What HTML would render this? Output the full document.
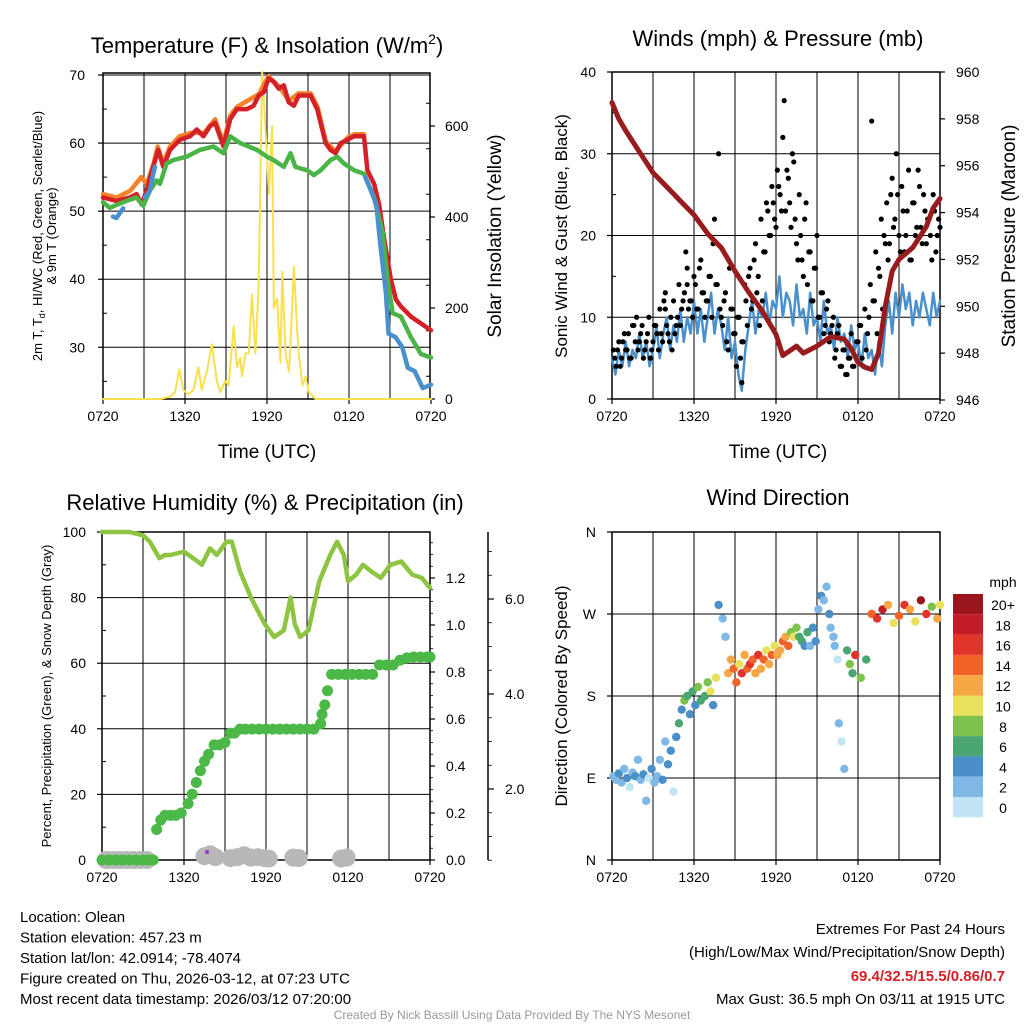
<!DOCTYPE html>
<html><head><meta charset="utf-8"><style>
body{margin:0;background:#fff}
svg{font-family:"Liberation Sans",sans-serif}
</style></head><body>
<svg id="s" width="1024" height="1024" viewBox="0 0 1024 1024" xmlns="http://www.w3.org/2000/svg">
</svg>
<script>
// ---------- DATA ----------
const xTickLabels=["0720","1320","1920","0120","0720"];
// Temperature panel (hours since 0720 UTC)
const tRedH=[0,0.98,1.96,2.45,2.82,3.18,3.67,4.04,4.41,4.9,5.63,6.37,6.86,7.35,7.84,8.2,8.82,9.31,9.8,10.53,11.02,11.39,11.76,12.12,12.49,12.86,13.23,13.59,13.96,14.33,15.18,15.67,16.29,16.65,17.02,17.39,17.88,18.37,19.1,19.35,19.84,20.2,20.57,21.06,21.43,21.8,22.53,23.27,24];
const tRedV=[52,51.5,52,52.5,51,53,56.5,59,56.5,59,60.5,61,62,61,62.5,63,59.5,63.5,65,65,65.5,67,67.5,69.5,69,68,68.5,66,65.5,67,67,65,60,59,58.5,60,60.5,61,61,56,54,51,46,40,37,36,34.5,33.5,32.5];
const tOrgH=[0,1,2,2.8,3.2,3.7,4.0,4.4,4.9,5.6,6.4,7.4,8.2,8.8,9.3,9.8,11.4,12.1,12.9,13.6,14.3,15.2,15.7,16.3,17.0,17.9,18.4,19.1];
const tOrgV=[52.5,52,53,55,54,57,59.5,57,59.5,61,61.5,61.5,63.5,60,64,65.3,67.2,69.8,68.3,66.2,67.3,67.3,65.3,60.2,58.8,60.8,61.3,61.3];
const tGrnH=[0,0.49,1.71,2.45,2.94,3.43,3.92,4.16,4.65,5.14,6.12,7.1,8.08,8.82,9.31,10.04,11.27,12.0,12.49,13.23,13.72,14.08,14.94,15.43,15.92,16.65,17.14,17.63,18.37,19.1,19.84,20.45,20.82,21.19,21.8,22.53,23.27,24];
const tGrnV=[51.3,50.5,51.5,52,50.8,53,54.5,54,57,57.5,58,59,59.5,58.5,61,60,59,58,57.5,56.5,58.5,56.5,56,55.3,56,57.5,58,57,56,55.5,52,47,40,35,34.5,31.5,29,28.5];
const tBlu1H=[0.73,0.98,1.47];
const tBlu1V=[49.2,49,50.4];
const tBlu2H=[3.06,3.43,3.67,3.8];
const tBlu2V=[52,53,55.5,56.5];
const tBlu3H=[19.2,19.6,20.0,20.3,20.7,20.9,21.4,21.9,22.3,22.8,23.4,24];
const tBlu3V=[55,53,51,45,38,32,31.5,30,27,26.5,24,24.5];
const solH=[0,4.17,4.9,5.27,5.59,5.88,6.25,6.62,6.98,7.23,7.6,7.96,8.33,8.58,8.94,9.19,9.56,9.8,10.05,10.17,10.42,10.66,10.9,11.15,11.39,11.64,11.88,12.13,12.37,12.5,12.74,12.74,12.99,13.11,13.36,13.6,13.72,13.97,14.21,14.33,14.58,14.82,15.06,15.56,15.8,16.17,24];
const solV=[0,0,5,15,65,20,10,20,70,20,60,120,40,15,40,30,160,70,90,50,100,100,230,100,250,720,600,450,600,200,220,220,80,280,100,60,120,290,150,100,30,50,15,0,0,0,0];
// Winds panel
const presH=[0,0.5,1,2,3,4,5,6,7,8,9,10,11,12,12.5,13,13.5,14,15,16,17,17.5,18,18.5,19,19.5,20,20.5,21,22,23,23.5,24];
const presV=[958.7,958,957.5,956.6,955.7,955.1,954.5,953.9,953.1,952.5,951.5,950.6,949.8,948.8,947.9,948.1,948.3,948,948.3,948.7,948.6,948.2,947.6,947.4,947.3,948,950,951.5,952,952.5,953.4,954.2,954.6];
const windH=[0,0.25,0.5,0.75,1,1.25,1.5,1.75,2,2.25,2.5,2.75,3,3.25,3.5,3.75,4,4.25,4.5,4.75,5,5.25,5.5,5.75,6,6.25,6.5,6.75,7,7.25,7.5,7.75,8,8.25,8.5,8.75,9,9.25,9.5,9.75,10,10.25,10.5,10.75,11,11.25,11.5,11.75,12,12.25,12.5,12.75,13,13.25,13.5,13.75,14,14.25,14.5,14.75,15,15.25,15.5,15.75,16,16.25,16.5,16.75,17,17.25,17.5,17.75,18,18.25,18.5,18.75,19,19.25,19.5,19.75,20,20.25,20.5,20.75,21,21.25,21.5,21.75,22,22.25,22.5,22.75,23,23.25,23.5,23.75,24];
const windV=[5,3,6,4,7,4,6,5,8,5,7,4,6,9,5,8,10,6,9,7,11,7,10,8,12,8,11,7,10,13,8,11,9,6,10,5,7,3,1,6,9,12,8,11,10,13,9,12,11,15,10,13,12,9,14,10,11,8,13,9,10,7,12,8,9,6,10,7,8,5,9,6,7,4,8,5,6,3,7,4,9,12,8,13,10,14,11,13,9,12,10,13,11,9,13,10,12];
const gustH=[0.2,0.4,0.6,0.8,1.0,1.2,1.4,1.6,1.8,2.0,2.2,2.4,2.6,2.8,3.0,3.2,3.4,3.6,3.8,3.9,4.0,4.2,4.4,4.6,4.8,5.0,5.2,5.4,5.5,5.6,5.8,6.0,6.2,6.4,6.6,6.8,7.0,7.2,7.4,7.6,7.8,8.0,8.2,8.4,8.6,8.8,9.0,9.2,9.4,9.5,9.6,9.8,10.0,10.2,10.4,10.6,10.8,11.0,11.2,11.4,11.6,11.8,12.0,12.2,12.4,12.6,12.8,13.0,13.2,13.4,13.6,13.8,14.0,14.2,14.4,14.6,14.8,15.0,15.2,15.4,15.6,15.8,16.0,16.2,16.4,16.6,16.8,17.0,17.2,17.4,17.6,18.0,18.2,18.4,18.6,18.8,19.0,19.2,19.4,19.6,19.8,20.0,20.2,20.4,20.6,20.8,21.0,21.2,21.4,21.6,21.8,22.0,22.2,22.4,22.6,22.8,23.0,23.2,23.4,23.6,23.8,24.0];
const gustV=[5,6,4,7,6,8,5,9,10,7,9,6,8,5,7,9,6,8,12,11,9,7,6,8,10,9,12,18,14,11,12,15,11,16,13,10,12,15,19,14,30,10,12,7,16,11,8,10,5,2,7,12,15,11,17,13,9,12,18,23,20,24,21,26,23,36.5,28,24,30,22,17,20,15,24,18,12,16,20,10,13,9,12,8,10,6,9,4,6,3,5,4,7,9,4,6,10,34,12,8,15,11,19,17,25,21,30,20,26,18,23,17,24,20,28,21,25,19,22,17,23,20,21];
const gust2H=[0.1,0.3,0.5,0.7,0.9,1.1,1.3,1.5,1.7,1.9,2.1,2.3,2.5,2.7,2.9,3.1,3.3,3.5,3.7,3.9,4.1,4.3,4.5,4.7,4.9,5.1,5.3,5.5,5.7,5.9,6.1,6.3,6.5,6.7,6.9,7.1,7.3,7.5,7.7,7.9,8.1,8.3,8.5,8.7,8.9,9.1,9.3,9.5,9.7,9.9,10.1,10.3,10.5,10.7,10.9,11.1,11.3,11.5,11.7,11.9,12.1,12.3,12.5,12.7,12.9,13.1,13.3,13.5,13.7,13.9,14.1,14.3,14.5,14.7,14.9,15.1,15.3,15.5,15.7,15.9,16.1,16.3,16.5,16.7,16.9,17.1,17.3,17.5,17.7,17.9,18.1,18.3,18.5,18.7,18.9,19.1,19.3,19.5,19.7,19.9,20.1,20.3,20.5,20.7,20.9,21.1,21.3,21.5,21.7,21.9,22.1,22.3,22.5,22.7,22.9,23.1,23.3,23.5,23.7,23.9];
const gust2V=[6,4,7,5,8,6,5,9,7,6,8,5,7,10,6,9,8,11,7,13,8,10,12,9,14,11,13,16,12,10,14,11,17,13,12,15,10,22,14,11,9,13,6,11,8,4,10,7,14,9,16,12,19,15,22,18,24,20,26,22,28,25,32,23,27,21,29,19,25,17,22,14,18,12,16,10,13,8,11,7,9,5,8,4,6,3,5,8,4,7,9,5,11,8,14,12,18,16,22,20,24,19,27,22,25,18,23,20,28,17,24,21,26,19,23,22,20,25,18,22];
// RH / precip panel
const rhH=[0,2,3,3.5,4.2,4.6,5,6,7,7.3,7.9,8.4,9.1,9.5,10.1,10.9,11.9,12.6,13.3,13.8,14.1,14.5,15.1,15.9,16.7,17.2,17.7,18.0,18.6,19.1,19.7,20.4,21.1,21.9,22.7,23.4,24];
const rhV=[100,100,99,97,92,93,93,94,91,90,95,93,97,97,88,80,72,68,70,80,72,68,70,85,93,97,93,85,87,90,88,86,90,91,87,86,83];
const pcpH=[0,0.5,1,1.5,2,2.5,3,3.4,3.75,4.0,4.3,4.6,5,5.4,5.8,6.3,6.6,6.9,7.2,7.5,7.8,8.2,8.6,9,9.4,9.7,10.1,10.5,11,11.5,12,12.5,13,13.5,14,14.5,15,15.5,16,16.1,16.3,16.5,16.8,17.3,17.8,18.3,18.8,19.3,19.8,20.3,20.8,21.3,21.8,22.3,22.8,23.3,23.8,24];
const pcpV=[0,0,0,0,0,0,0,0,0,0.13,0.17,0.19,0.19,0.19,0.2,0.24,0.28,0.33,0.38,0.42,0.45,0.49,0.49,0.5,0.54,0.54,0.557,0.557,0.557,0.557,0.557,0.557,0.557,0.557,0.557,0.557,0.557,0.557,0.58,0.62,0.66,0.72,0.79,0.79,0.79,0.79,0.79,0.79,0.79,0.83,0.83,0.83,0.85,0.86,0.864,0.864,0.864,0.864];
const snowH=[0.3,0.8,1.3,1.8,2.3,2.8,3.3,7.5,7.9,8.3,9.4,9.9,10.4,10.9,11.4,11.9,12.2,14.0,14.4,17.5,17.9];
const snowV=[0,0,0,0,0,0,0,0.08,0.12,0.06,0.04,0.06,0.1,0.05,0.06,0.04,0.03,0.05,0.04,0.03,0.05];
// Wind direction panel
const dirH=[0.1,0.3,0.5,0.7,0.9,1.1,1.3,1.5,1.7,1.9,2.1,2.3,2.5,2.7,2.9,3.1,3.3,3.5,3.7,3.9,4.1,4.3,4.5,4.7,4.9,5.1,5.3,5.5,5.7,5.9,6.1,6.3,6.5,6.8,7.0,7.2,7.4,7.6,7.8,8.1,8.3,8.5,8.7,8.9,9.1,9.3,9.5,9.7,9.9,10.1,10.3,10.5,10.7,10.9,11.1,11.3,11.5,11.7,11.9,12.1,12.3,12.5,12.7,12.9,13.1,13.3,13.5,13.7,13.9,14.1,14.3,14.5,14.7,14.9,15.1,15.3,15.5,15.7,15.9,16.0,16.2,16.3,16.5,16.6,16.8,17.0,17.2,17.4,17.6,17.8,18.2,18.6,19.0,19.4,19.8,20.2,20.6,21.0,21.4,21.8,22.2,22.6,23.0,23.4,23.8,24.0];
const dirV=[92,88,95,85,100,90,80,96,92,110,88,94,65,90,100,85,92,110,88,130,105,120,75,135,150,165,175,180,160,185,170,190,175,180,195,185,170,200,280,265,245,205,220,210,195,215,205,225,210,215,220,205,225,210,220,230,215,225,235,225,230,240,245,235,250,245,255,245,240,235,250,235,255,240,275,290,285,300,270,255,245,235,220,150,130,100,230,215,205,225,200,220,270,265,275,280,260,268,280,275,262,285,270,278,265,280,272,270];
const dirS=[3,2,4,3,2,4,1,3,4,2,3,4,2,1,4,3,2,3,4,3,5,4,1,4,6,5,8,6,4,7,5,8,7,6,9,10,5,11,4,3,2,12,13,14,15,11,16,13,14,17,15,13,16,12,14,10,12,15,11,13,12,14,13,15,9,11,8,7,6,5,7,3,5,4,3,4,2,3,4,3,2,3,1,2,1,2,7,8,6,16,9,7,14,16,18,12,10,15,17,13,11,20,16,9,12,11];
const cbLabels=["20+","18","16","14","12","10","8","6","4","2","0"];
const cbColors=["#9a161c","#c21d26","#e0352b","#f2632a","#f8a747","#e7e15c","#7cc24c","#4aa772","#4a8fc8","#7fb8e4","#c2e5f6"];
</script>
<script>
const NS="http://www.w3.org/2000/svg";
const S=document.getElementById('s');
function mk(tag,at,parent,txt){const e=document.createElementNS(NS,tag);for(const k in at)e.setAttribute(k,at[k]);if(txt!==undefined)e.textContent=txt;(parent||S).appendChild(e);return e;}
function line(x1,y1,x2,y2,c,w,name){const e=mk('line',{x1,y1,x2,y2,stroke:c,'stroke-width':w});

return e;}
function text(x,y,s,size,anchor,name,extra){const at={x,y,'font-size':size,'text-anchor':anchor||'middle',fill:'#000'};if(extra)for(const k in extra)at[k]=extra[k];const e=mk('text',at,S,s);

return e;}
function poly(xs,ys,fx,fy,c,w,name){const pts=xs.map((h,i)=>fx(h).toFixed(1)+','+fy(ys[i]).toFixed(1)).join(' ');const e=mk('polyline',{points:pts,fill:'none',stroke:c,'stroke-width':w,'stroke-linejoin':'round','stroke-linecap':'round'});

return e;}
function dot(x,y,r,c,name){const e=mk('circle',{cx:x,cy:y,r,fill:c});

return e;}

function panelX(x0){return h=>x0+h*(328/24);}
function frameAndGrid(x0,y0,x1,y1,xf,hGridYs,name){
  for(let h=3;h<24;h+=3){line(xf(h),y0,xf(h),y1,'#000',1,name+'-vgrid');}
  hGridYs.forEach(y=>line(x0,y,x1,y,'#000',1,name+'-hgrid'));
  const r=mk('rect',{x:x0,y:y0,width:x1-x0,height:y1-y0,fill:'none',stroke:'#000','stroke-width':1.5});
  
  
  xTickLabels.forEach((l,i)=>{const x=xf(i*6);line(x,y1,x,y1+5,'#000',1.2,'x-tick');text(x,y1+22,l,14,'middle','x-tick-label');});
  for(let h=3;h<24;h+=6){line(xf(h),y1,xf(h),y1-4,'#000',1,'x-minor-tick');}
}

// ===== Panel 1: Temperature =====
{
const x0=103,x1=430,y0=73,y1=399;
const xf=panelX(x0);
const yT=v=>399-(v-22.4)*(326/47.9);
const yS=v=>399-v*(91/200);
frameAndGrid(x0,y0,x1,y1,xf,[30,40,50,60,70].map(yT),'temp');
line(x0,75,x1,75,'#000',1,'temp-top-line');
[30,40,50,60,70].forEach(v=>{line(x0-5,yT(v),x0,yT(v),'#000',1.2,'temp-y-tick');text(x0-18,yT(v)+5,String(v),14,'end','temp-y-label');});
[25,35,45,55,65].forEach(v=>line(x0,yT(v),x0+4,yT(v),'#000',1,'temp-minor-tick'));
[0,200,400,600].forEach(v=>{line(x1,yS(v),x1+5,yS(v),'#000',1.2,'sol-y-tick');text(x1+15,yS(v)+5,String(v),14,'start','sol-y-label');});
for(let v=50;v<720;v+=100)line(x1,yS(v),x1-4,yS(v),'#000',1,'sol-minor-tick');
poly(solH,solV,xf,yS,'#f8e04e',2,'insolation-line');
poly(tOrgH,tOrgV,xf,yT,'#f5822a',4.5,'9m-temp-line');
poly(tRedH,tRedV,xf,yT,'#d42027',4.5,'2m-temp-line');
poly(tGrnH,tGrnV,xf,yT,'#4bb446',4.5,'dewpoint-line');
poly(tBlu1H,tBlu1V,xf,yT,'#4a90cc',4.5,'windchill-line');
poly(tBlu2H,tBlu2V,xf,yT,'#4a90cc',4.5,'windchill-line');
poly(tBlu3H,tBlu3V,xf,yT,'#4a90cc',4.5,'windchill-line');
const t=text(267,53,'Temperature (F) & Insolation (W/m',22,'middle','temp-panel-title');
const sp=mk('tspan',{dy:-9,'font-size':14},t,'2');
const sp2=mk('tspan',{dy:9},t,')');
const yl=text(0,0,'',13,'middle','temp-y-axis-title',{transform:'translate(42,236) rotate(-90)'});
mk('tspan',{},yl,'2m T, T');mk('tspan',{dy:3,'font-size':9},yl,'d');mk('tspan',{dy:-3},yl,', HI/WC (Red, Green, Scarlet/Blue)');
text(0,0,'& 9m T (Orange)',13,'middle','temp-y-axis-title-2',{transform:'translate(56,236) rotate(-90)'});
text(0,0,'Solar Insolation (Yellow)',19,'middle','solar-y-axis-title',{transform:'translate(501,236) rotate(-90)'});
text(267,458,'Time (UTC)',19,'middle','temp-x-axis-title');
}

// ===== Panel 2: Winds =====
{
const x0=612,x1=940,y0=72,y1=399;
const xf=panelX(x0);
const yW=v=>399-v*(327/40);
const yP=v=>400-(v-946)*(328/14);
frameAndGrid(x0,y0,x1,y1,xf,[10,20,30].map(yW),'wind');
[0,10,20,30,40].forEach(v=>{line(x0-5,yW(v),x0,yW(v),'#000',1.2,'wind-y-tick');text(x0-16,yW(v)+5,String(v),14,'end','wind-y-label');});
[5,15,25,35].forEach(v=>line(x0,yW(v),x0+4,yW(v),'#000',1,'wind-minor-tick'));
[946,948,950,952,954,956,958,960].forEach(v=>{line(x1,yP(v),x1+5,yP(v),'#000',1.2,'pres-y-tick');text(x1+16,yP(v)+5,String(v),14,'start','pres-y-label');});
poly(windH,windV,xf,yW,'#4a90cc',2.5,'sonic-wind-line');
gustH.forEach((h,i)=>dot(xf(h),yW(gustV[i]),2.6,'#000','gust-point'));
gust2H.forEach((h,i)=>dot(xf(h),yW(gust2V[i]),2.6,'#000','gust-point'));
poly(presH,presV,xf,yP,'#981b1e',5,'pressure-line');
text(778,46,'Winds (mph) & Pressure (mb)',22,'middle','wind-panel-title');
text(0,0,'Sonic Wind & Gust (Blue, Black)',17,'middle','wind-y-axis-title',{transform:'translate(567,236) rotate(-90)'});
text(0,0,'Station Pressure (Maroon)',19,'middle','pressure-y-axis-title',{transform:'translate(1015,236) rotate(-90)'});
text(778,458,'Time (UTC)',19,'middle','wind-x-axis-title');
}

// ===== Panel 3: RH & precip =====
{
const x0=102,x1=430,y0=532,y1=860;
const xf=panelX(x0);
const yR=v=>860-v*3.28;
const yPc=v=>860-v*235;
const ySn=v=>884-v*47.5;
frameAndGrid(x0,y0,x1,y1,xf,[20,40,60,80].map(yR),'rh');
[0,20,40,60,80,100].forEach(v=>{line(x0-5,yR(v),x0,yR(v),'#000',1.2,'rh-y-tick');text(x0-16,yR(v)+5,String(v),14,'end','rh-y-label');});
[10,30,50,70,90].forEach(v=>line(x0,yR(v),x0+4,yR(v),'#000',1,'rh-minor-tick'));
[0,0.2,0.4,0.6,0.8,1.0,1.2].forEach(v=>{line(x1,yPc(v),x1+5,yPc(v),'#000',1.2,'pcp-y-tick');text(x1+16,yPc(v)+5,v.toFixed(1),14,'start','pcp-y-label');});
for(let v=0.05;v<1.4;v+=0.05)line(x1,yPc(v),x1+3,yPc(v),'#000',0.8,'pcp-minor-tick');
line(488,532,488,860,'#000',1.5,'snow-axis-line');
[2,4,6].forEach(v=>{line(488,ySn(v),494,ySn(v),'#000',1.2,'snow-y-tick');text(505,ySn(v)+5,v.toFixed(1),14,'start','snow-y-label');});
for(let v=0.5;v<7.5;v+=0.5)if(v%2)line(488,ySn(v),492,ySn(v),'#000',0.8,'snow-minor-tick');
snowH.forEach((h,i)=>dot(xf(h),ySn(snowV[i])-24,9,'#b8b8b8','snow-depth-point'));
dot(207,852,2,'#9b30d0','snow-flag');
poly(rhH,rhV,xf,yR,'#8dc543',4.5,'rh-line');
pcpH.forEach((h,i)=>dot(xf(h),yPc(pcpV[i]),5.5,'#4bb848','precip-point'));
text(265,510,'Relative Humidity (%) & Precipitation (in)',22,'middle','rh-panel-title');
text(0,0,'Percent, Precipitation (Green), & Snow Depth (Gray)',13,'middle','rh-y-axis-title',{transform:'translate(51,696) rotate(-90)'});
}

// ===== Panel 4: Wind direction =====
{
const x0=612,x1=940,y0=532,y1=860;
const xf=panelX(x0);
const yD=v=>860-v*(328/360);
frameAndGrid(x0,y0,x1,y1,xf,[90,180,270].map(yD),'dir');
const dl=['N','E','S','W','N'];
dl.forEach((l,i)=>{line(x0-5,yD(i*90),x0,yD(i*90),'#000',1.2,'dir-y-tick');text(x0-16,yD(i*90)+5,l,14,'end','dir-y-label');});
dirH.forEach((h,i)=>{const idx=Math.min(10,Math.floor(dirS[i]/2));dot(xf(h),yD(dirV[i]),4.2,cbColors[10-idx],'direction-point');});
cbColors.forEach((c,i)=>{const r=mk('rect',{x:953,y:594+i*20.3,width:30,height:20.3,fill:c});


text(1003,594+i*20.3+16,cbLabels[i],14,'middle','colorbar-label');});
text(1003,587,'mph',14,'middle','colorbar-title');
text(778,505,'Wind Direction',22,'middle','dir-panel-title');
text(0,0,'Direction (Colored By Speed)',17,'middle','dir-y-axis-title',{transform:'translate(567,696) rotate(-90)'});
}

// ===== Footer text =====
['Location: Olean','Station elevation: 457.23 m','Station lat/lon: 42.0914; -78.4074','Figure created on Thu, 2026-03-12, at 07:23 UTC','Most recent data timestamp: 2026/03/12 07:20:00'].forEach((s,i)=>text(20,922+i*20.5,s,15,'start','station-info-line'));
text(1005,934,'Extremes For Past 24 Hours',15,'end','extremes-title');
text(1005,957,'(High/Low/Max Wind/Precipitation/Snow Depth)',15,'end','extremes-subtitle');
text(1005,981,'69.4/32.5/15.5/0.86/0.7',15,'end','extremes-values',{fill:'#d42027','font-weight':'bold'});
text(1005,1004,'Max Gust: 36.5 mph On 03/11 at 1915 UTC',15,'end','max-gust-text');
text(512,1019,'Created By Nick Bassill Using Data Provided By The NYS Mesonet',12,'middle','credit-text',{fill:'#999'});
</script>
</body></html>
